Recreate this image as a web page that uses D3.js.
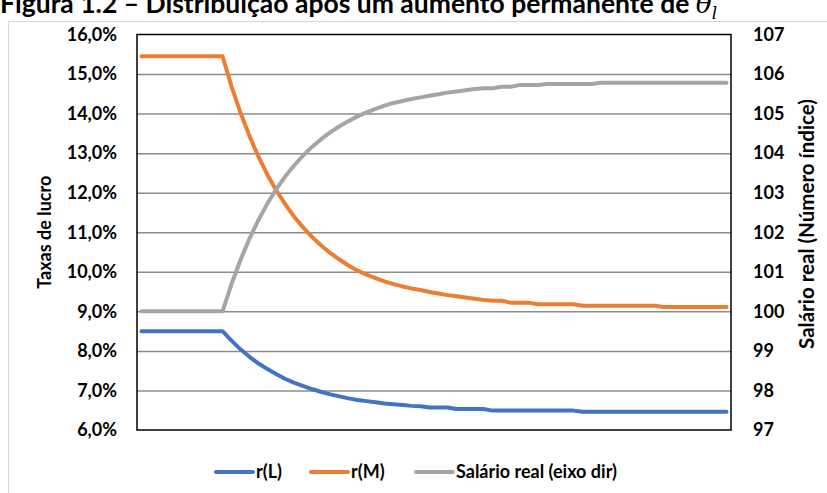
<!DOCTYPE html>
<html>
<head>
<meta charset="utf-8">
<script src="https://cdn.jsdelivr.net/npm/d3@7"></script>
<style>
  html, body { margin: 0; padding: 0; background: #fff; }
  svg { display: block; font-family: Lato, "Noto Sans", sans-serif; }
</style>
</head>
<body>
<svg id="chart" width="827" height="493"></svg>
<script>
// Periods of the simulation (one point per period)
const periods = d3.range(66);

// Profit rate, sector L (%)
const rL = [8.50, 8.50, 8.50, 8.50, 8.50, 8.50, 8.50, 8.50, 8.50, 8.50,
  8.26, 8.04, 7.85, 7.68, 7.54, 7.41, 7.29, 7.19, 7.11, 7.03,
  6.96, 6.90, 6.85, 6.80, 6.76, 6.73, 6.70, 6.67, 6.65, 6.63,
  6.61, 6.60, 6.57, 6.57, 6.57, 6.53, 6.53, 6.53, 6.53,
  6.49, 6.49, 6.49, 6.49, 6.49, 6.49, 6.49, 6.49, 6.49, 6.49,
  6.46, 6.46, 6.46, 6.46, 6.46, 6.46, 6.46, 6.46, 6.46, 6.46,
  6.46, 6.46, 6.46, 6.46, 6.46, 6.46, 6.46];

// Profit rate, sector M (%)
const rM = [15.45, 15.45, 15.45, 15.45, 15.45, 15.45, 15.45, 15.45, 15.45, 15.45,
  14.69, 14.02, 13.43, 12.91, 12.45, 12.05, 11.70, 11.38, 11.11, 10.87,
  10.66, 10.47, 10.31, 10.16, 10.03, 9.93, 9.84, 9.76, 9.69, 9.63,
  9.58, 9.54, 9.49, 9.45, 9.41, 9.38, 9.35, 9.32, 9.29,
  9.27, 9.27, 9.22, 9.22, 9.22, 9.18, 9.18, 9.18, 9.18, 9.18,
  9.14, 9.14, 9.14, 9.14, 9.14, 9.14, 9.14, 9.14, 9.14,
  9.11, 9.11, 9.11, 9.11, 9.11, 9.11, 9.11, 9.11];

// Real wage, index number (right axis)
const salario = [100, 100, 100, 100, 100, 100, 100, 100, 100, 100,
  100.69, 101.30, 101.84, 102.31, 102.73, 103.10, 103.42, 103.70, 103.95, 104.17,
  104.36, 104.53, 104.68, 104.81, 104.93, 105.03, 105.12, 105.20, 105.27, 105.32,
  105.37, 105.41, 105.45, 105.49, 105.53, 105.56, 105.59, 105.62, 105.64,
  105.64, 105.68, 105.68, 105.72, 105.72, 105.72,
  105.75, 105.75, 105.75, 105.75, 105.75, 105.75,
  105.78, 105.78, 105.78, 105.78, 105.78, 105.78, 105.78, 105.78, 105.78, 105.78,
  105.78, 105.78, 105.78, 105.78, 105.78];

const leftTicks = [6, 7, 8, 9, 10, 11, 12, 13, 14, 15, 16];
const rightTicks = [97, 98, 99, 100, 101, 102, 103, 104, 105, 106, 107];

const seriesNames = ["r(L)", "r(M)", "Salário real (eixo dir)"];
const colors = ["#4472C4", "#ED7D31", "#A5A5A5"];

const svg = d3.select("#chart");
const plot = { left: 137, right: 731, top: 34.5, bottom: 430 };

const x = d3.scalePoint().domain(periods).range([plot.left, plot.right]).padding(0.5);
const yL = d3.scaleLinear().domain([6, 16]).range([plot.bottom, plot.top]);
const yR = d3.scaleLinear().domain([97, 107]).range([plot.bottom, plot.top]);

// Outer chart frame
svg.append("rect")
  .attr("x", 8.5).attr("y", 21.5)
  .attr("width", 840).attr("height", 500)
  .attr("fill", "#fff").attr("stroke", "#d9d9d9").attr("stroke-width", 1);

// Title (top edge of the figure trims it)
const title = svg.append("text")
  .attr("x", 0).attr("y", 13)
  .attr("font-size", 26.5).attr("font-weight", 700).attr("fill", "#000");
title.append("tspan").text("Figura 1.2 – Distribuição após um aumento permanente de ");
title.append("tspan").attr("font-style", "italic").attr("font-family", "DejaVu Serif").attr("font-weight", 400).text("θ");
title.append("tspan").attr("font-style", "italic").attr("font-family", "DejaVu Serif").attr("font-weight", 400)
  .attr("font-size", 17).attr("dy", 6).text("l");

// Horizontal gridlines
svg.append("g")
  .attr("transform", `translate(${plot.left},0)`)
  .call(d3.axisLeft(yL).tickValues(leftTicks.slice(1, -1)).tickSize(-(plot.right - plot.left)).tickFormat(""))
  .call(g => g.select(".domain").remove())
  .call(g => g.selectAll("line").attr("stroke", "#8c8c8c").attr("stroke-width", 1.5));

// Left axis labels
svg.append("g")
  .attr("transform", `translate(${plot.left},0)`)
  .call(d3.axisLeft(yL).tickValues(leftTicks).tickSize(0).tickPadding(20)
    .tickFormat(d => d.toFixed(1).replace(".", ",") + "%"))
  .call(g => g.select(".domain").remove())
  .call(g => g.selectAll("text").attr("font-family", "Lato").attr("font-size", 18)
    .attr("font-weight", 700).attr("fill", "#000"));

// Right axis labels
svg.append("g")
  .attr("transform", `translate(${plot.right},0)`)
  .call(d3.axisRight(yR).tickValues(rightTicks).tickSize(0).tickPadding(22).tickFormat(d3.format("d")))
  .call(g => g.select(".domain").remove())
  .call(g => g.selectAll("text").attr("font-family", "Lato").attr("font-size", 18)
    .attr("font-weight", 700).attr("fill", "#000"));

// Axis titles
svg.append("text")
  .attr("transform", `translate(51,${(plot.top + plot.bottom) / 2}) rotate(-90)`)
  .attr("text-anchor", "middle")
  .attr("font-size", 18).attr("font-weight", 700).text("Taxas de lucro");

svg.append("text")
  .attr("transform", `translate(814,224) rotate(-90)`)
  .attr("text-anchor", "middle")
  .attr("font-size", 20.5).attr("font-weight", 700).text("Salário real (Número índice)");

// Series lines
const lineL = d3.line().x((d, i) => x(periods[i])).y(d => yL(d));
const lineR = d3.line().x((d, i) => x(periods[i])).y(d => yR(d));

const series = [
  { values: rL, line: lineL, color: colors[0] },
  { values: rM, line: lineL, color: colors[1] },
  { values: salario, line: lineR, color: colors[2] }
];

svg.append("g").selectAll("path")
  .data(series)
  .join("path")
  .attr("d", s => s.line(s.values))
  .attr("fill", "none")
  .attr("stroke", s => s.color)
  .attr("stroke-width", 4)
  .attr("stroke-linejoin", "round")
  .attr("stroke-linecap", "round");

// Plot area border
svg.append("rect")
  .attr("x", plot.left).attr("y", plot.top)
  .attr("width", plot.right - plot.left).attr("height", plot.bottom - plot.top)
  .attr("fill", "none").attr("stroke", "#000").attr("stroke-width", 1.5);

// Legend
const legendItems = [
  { name: seriesNames[0], color: colors[0], x: 215 },
  { name: seriesNames[1], color: colors[1], x: 310 },
  { name: seriesNames[2], color: colors[2], x: 415 }
];
const legend = svg.append("g").attr("transform", "translate(0,472)");
const item = legend.selectAll("g").data(legendItems).join("g")
  .attr("transform", d => `translate(${d.x},0)`);
item.append("line")
  .attr("x1", 1).attr("x2", 38).attr("y1", 0).attr("y2", 0)
  .attr("stroke", d => d.color).attr("stroke-width", 4).attr("stroke-linecap", "round");
item.append("text")
  .attr("x", 41).attr("y", 0).attr("dy", "0.35em")
  .attr("font-size", 18).attr("font-weight", 700).text(d => d.name);
</script>
</body>
</html>
